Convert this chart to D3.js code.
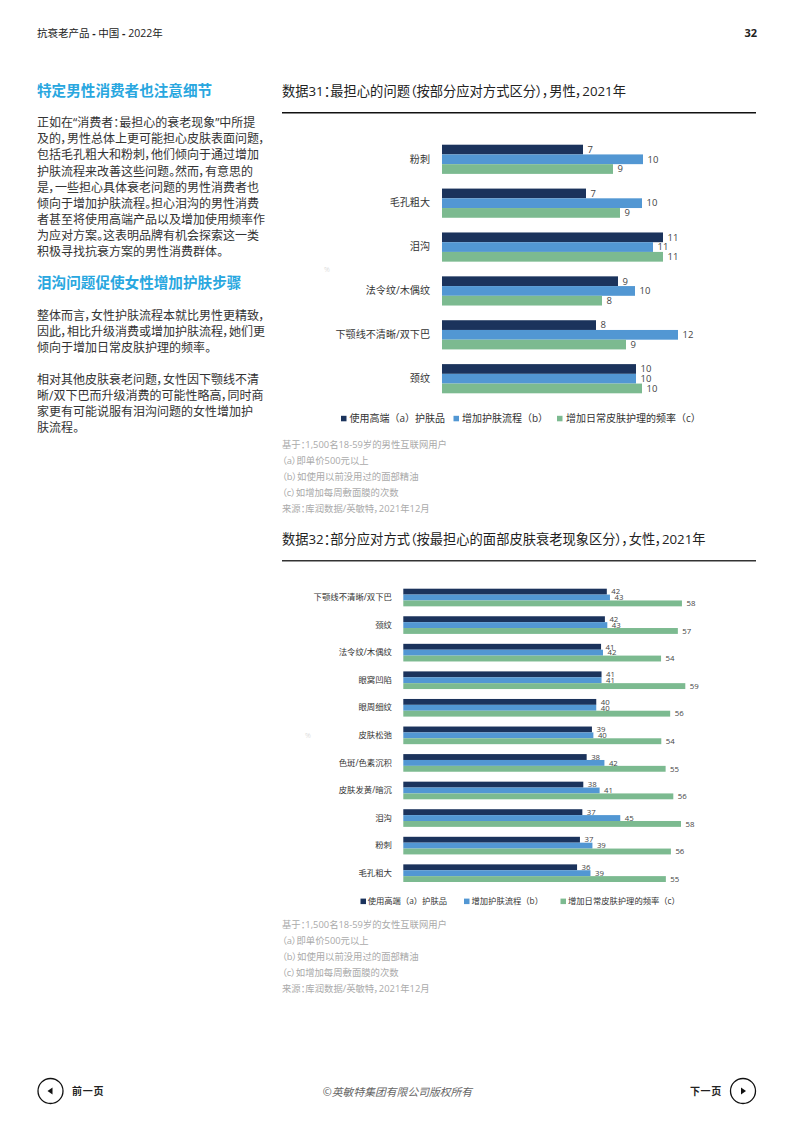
<!DOCTYPE html>
<html lang="zh">
<head>
<meta charset="utf-8">
<script src="https://cdn.jsdelivr.net/npm/d3@7"></script>
<style>
  html, body { margin: 0; background: #fff; }
  svg { display: block; }
  text { font-family: "Open Sans", "Noto Sans CJK SC", sans-serif; font-feature-settings: "palt"; }
</style>
</head>
<body>
<div id="page"></div>
<script>
const seriesNames = ['使用高端（a）护肤品', '增加护肤流程（b）', '增加日常皮肤护理的频率（c）'];
const seriesColors = ['#1b335c', '#5297d3', '#7cba90'];

const menCats = ['粉刺', '毛孔粗大', '泪沟', '法令纹/木偶纹', '下颚线不清晰/双下巴', '颈纹'];
const menHighEnd = [7.05, 7.2, 11.05, 8.8, 7.7, 9.7];
const menRoutine = [10.05, 10.0, 10.55, 9.65, 11.8, 9.7];
const menFrequency = [8.55, 8.9, 11.05, 8.0, 9.2, 10.0];

const womenCats = ['下颚线不清晰/双下巴', '颈纹', '法令纹/木偶纹', '眼窝凹陷', '眼周细纹', '皮肤松弛', '色斑/色素沉积', '皮肤发黄/暗沉', '泪沟', '粉刺', '毛孔粗大'];
const womenHighEnd = [42.4, 42.0, 41.2, 41.3, 40.2, 39.3, 38.2, 37.5, 37.3, 36.8, 36.2];
const womenRoutine = [43.05, 42.5, 41.6, 41.3, 40.2, 39.6, 41.9, 40.9, 45.2, 39.4, 39.0];
const womenFrequency = [58.05, 57.2, 53.7, 58.75, 55.6, 53.75, 54.65, 56.25, 57.85, 55.75, 54.7];

const bodyOne = [
  '正如在“消费者：最担心的衰老现象”中所提',
  '及的，男性总体上更可能担心皮肤表面问题，',
  '包括毛孔粗大和粉刺，他们倾向于通过增加',
  '护肤流程来改善这些问题。然而，有意思的',
  '是，一些担心具体衰老问题的男性消费者也',
  '倾向于增加护肤流程。担心泪沟的男性消费',
  '者甚至将使用高端产品以及增加使用频率作',
  '为应对方案。这表明品牌有机会探索这一类',
  '积极寻找抗衰方案的男性消费群体。',
];
const bodyTwo = [
  '整体而言，女性护肤流程本就比男性更精致，',
  '因此，相比升级消费或增加护肤流程，她们更',
  '倾向于增加日常皮肤护理的频率。',
];
const bodyThree = [
  '相对其他皮肤衰老问题，女性因下颚线不清',
  '晰/双下巴而升级消费的可能性略高，同时商',
  '家更有可能说服有泪沟问题的女性增加护',
  '肤流程。',
];
const menNotes = [
  '基于：1,500名18-59岁的男性互联网用户',
  '（a）即单价500元以上',
  '（b）如使用以前没用过的面部精油',
  '（c）如增加每周敷面膜的次数',
  '来源：库润数据/英敏特，2021年12月',
];
const womenNotes = [
  '基于：1,500名18-59岁的女性互联网用户',
  '（a）即单价500元以上',
  '（b）如使用以前没用过的面部精油',
  '（c）如增加每周敷面膜的次数',
  '来源：库润数据/英敏特，2021年12月',
];
const headerParts = ['抗衰老产品', '中国', '2022年'];

const svg = d3.select('#page').append('svg').attr('width', 794).attr('height', 1123).attr('viewBox', '0 0 794 1123');

function addText(x, y, str, size, fill, opts = {}) {
  return svg.append('text')
    .attr('x', x)
    .attr('y', y)
    .attr('dy', '0.35em')
    .attr('font-size', size)
    .attr('fill', fill)
    .attr('font-weight', opts.weight || 400)
    .attr('font-style', opts.style || 'normal')
    .attr('text-anchor', opts.anchor || 'start')
    .text(str);
}

function addLines(lines, x, y0, pitch, size, fill) {
  lines.forEach((line, i) => addText(x, y0 + i * pitch, line, size, fill));
}

function drawChart({ cats, series, x0, pxPerUnit, maxValue, yTop, yBottom, padding, labelX, catSize, valueSize, legendY, legendSize, legendPos }) {
  const x = d3.scaleLinear().domain([0, maxValue]).range([x0, x0 + maxValue * pxPerUnit]);
  const y = d3.scaleBand().domain(cats).range([yTop, yBottom]).paddingInner(padding);
  const inner = d3.scaleBand().domain(d3.range(series.length)).range([0, y.bandwidth()]);

  const g = svg.append('g');
  series.forEach((values, s) => {
    g.selectAll(null)
      .data(values)
      .join('rect')
      .attr('x', x0)
      .attr('y', (d, i) => y(cats[i]) + inner(s))
      .attr('width', (d) => x(d) - x0)
      .attr('height', inner.bandwidth())
      .attr('fill', seriesColors[s]);
  });
  series.forEach((values, s) => {
    g.selectAll(null)
      .data(values)
      .join('text')
      .attr('x', (d) => x(d) + 4.5)
      .attr('y', (d, i) => y(cats[i]) + inner(s) + inner.bandwidth() / 2)
      .attr('dy', '0.35em')
      .attr('font-size', valueSize)
      .attr('fill', '#444')
      .text((d) => d3.format('.0f')(d));
  });

  const axis = svg.append('g')
    .attr('transform', `translate(${labelX},0)`)
    .call(d3.axisLeft(y).tickSize(0).tickPadding(0));
  axis.select('.domain').remove();
  axis.selectAll('text')
    .attr('font-size', catSize)
    .attr('fill', '#333')
    .style('font-family', '"Open Sans", "Noto Sans CJK SC", sans-serif');

  seriesNames.forEach((name, s) => {
    const [sqX, textX] = legendPos[s];
    svg.append('rect')
      .attr('x', sqX)
      .attr('y', legendY - 2.7)
      .attr('width', 5.5)
      .attr('height', 5.5)
      .attr('fill', seriesColors[s]);
    addText(textX, legendY, name, legendSize, '#333').style('font-feature-settings', 'normal');
  });
}

// page header
const header = addText(37, 33.5, '', 10.5, '#222');
headerParts.forEach((part, i) => {
  if (i > 0) header.append('tspan').attr('font-weight', 700).text(' - ');
  header.append('tspan').text(part);
});
addText(757, 33.5, '32', 11, '#222', { anchor: 'end', weight: 700 });

// left column
addText(37, 91, '特定男性消费者也注意细节', 14.6, '#29a7df', { weight: 700 });
addLines(bodyOne, 37, 123, 16.1, 12, '#333');
addText(37, 282.7, '泪沟问题促使女性增加护肤步骤', 14.6, '#29a7df', { weight: 700 });
addLines(bodyTwo, 37, 315.6, 16.3, 12, '#333');
addLines(bodyThree, 37, 379.3, 16.1, 12, '#333');

// first chart
addText(282, 91, '数据31：最担心的问题（按部分应对方式区分），男性，2021年', 13.28, '#222');
svg.append('line').attr('x1', 282).attr('x2', 756).attr('y1', 112.7).attr('y2', 112.7).attr('stroke', '#111').attr('stroke-width', 1.5);
svg.append('text').attr('x', 324).attr('y', 272).attr('font-size', 7).attr('fill', '#ddd').text('%');

drawChart({
  cats: menCats,
  series: [menHighEnd, menRoutine, menFrequency],
  x0: 442,
  pxPerUnit: 20,
  maxValue: 12,
  yTop: 144.7,
  yBottom: 393.3,
  padding: 0.335,
  labelX: 430,
  catSize: 10.1,
  valueSize: 9.5,
  legendY: 418.5,
  legendSize: 10,
  legendPos: [[341, 349.5], [453.5, 462], [557, 566]],
});
addLines(menNotes, 282, 444.3, 16, 9.35, '#aaa');

// second chart
addText(282, 539, '数据32：部分应对方式（按最担心的面部皮肤衰老现象区分），女性，2021年', 13.28, '#222');
svg.append('line').attr('x1', 282).attr('x2', 756).attr('y1', 560.7).attr('y2', 560.7).attr('stroke', '#333').attr('stroke-width', 1.5);
svg.append('text').attr('x', 305).attr('y', 738).attr('font-size', 7).attr('fill', '#ddd').text('%');

drawChart({
  cats: womenCats,
  series: [womenHighEnd, womenRoutine, womenFrequency],
  x0: 403.3,
  pxPerUnit: 4.8,
  maxValue: 60,
  yTop: 588.7,
  yBottom: 882,
  padding: 0.36,
  labelX: 392,
  catSize: 8.4,
  valueSize: 7.8,
  legendY: 901.3,
  legendSize: 8.3,
  legendPos: [[360.5, 367.7], [464, 471.5], [560.5, 568]],
});
addLines(womenNotes, 282, 924.3, 16, 9.35, '#aaa');

// footer
[[50.5, -1], [743, 1]].forEach(([cx, dir]) => {
  svg.append('circle').attr('cx', cx).attr('cy', 1091).attr('r', 12.5).attr('fill', 'none').attr('stroke', '#111').attr('stroke-width', 1.3);
  svg.append('path')
    .attr('d', d3.line()([[cx + dir * 3, 1091], [cx - dir * 2, 1087.6], [cx - dir * 2, 1094.4]]) + 'Z')
    .attr('fill', '#111');
});
addText(72, 1091, '前一页', 10, '#222', { weight: 700 }).attr('letter-spacing', 0.7);
addText(722, 1091, '下一页', 10, '#222', { anchor: 'end', weight: 700 }).attr('letter-spacing', 0.7);
addText(397.5, 1092, '©英敏特集团有限公司版权所有', 10.8, '#666', { anchor: 'middle', style: 'italic' });
</script>
</body>
</html>
